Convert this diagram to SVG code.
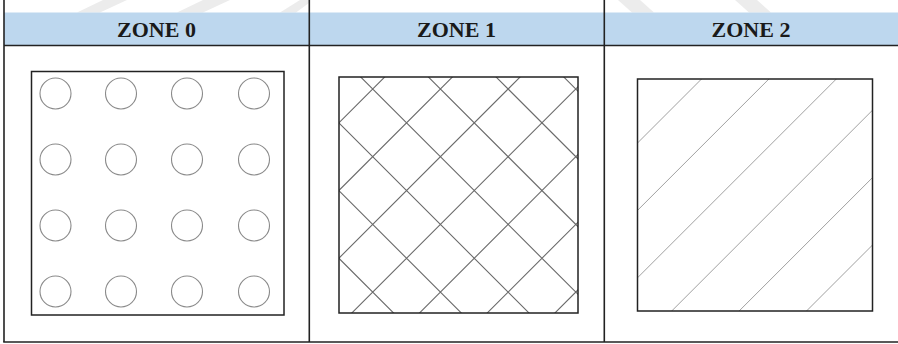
<svg xmlns="http://www.w3.org/2000/svg" width="898" height="344" viewBox="0 0 898 344">
  <style>
    .frame { stroke: #222; stroke-width: 1.6; fill: none; }
    .box { stroke: #222; stroke-width: 1.5; fill: none; }
    .hdr { font-family: "Liberation Serif", "Times New Roman", serif; font-weight: bold; font-size: 22px; fill: #1a1a1a; text-anchor: middle; }
    .dot { stroke: #8a8a8a; stroke-width: 1.1; fill: none; }
    .cross { stroke: #6a6a6a; stroke-width: 1.1; fill: none; }
    .diag { stroke: #a0a0a0; stroke-width: 1; fill: none; }
    .wm { fill: #ececec; }
  </style>
  <defs>
    <clipPath id="clip1"><rect x="339" y="77" width="239" height="236"/></clipPath>
    <clipPath id="clip2"><rect x="637" y="79" width="235" height="232"/></clipPath>
  </defs>
  <rect x="0" y="0" width="898" height="344" fill="#ffffff"/>
  <g id="watermark">
    <polygon class="wm" points="103,0 127,0 100,12.5 77,12.5"/>
    <polygon class="wm" points="203,0 230,0 203,12.5 177,12.5"/>
    <polygon class="wm" points="300,0 309,0 309,3 296,12.5 280,12.5"/>
    <polygon class="wm" points="618,0 640,0 654,12.5 632,12.5"/>
    <polygon class="wm" points="735,0 757,0 771,12.5 749,12.5"/>
  </g>
  <g id="header">
    <rect x="4" y="12.5" width="894" height="32.5" fill="#bdd7ee"/>
    <text class="hdr" x="156.5" y="37">ZONE 0</text>
    <text class="hdr" x="456.5" y="37">ZONE 1</text>
    <text class="hdr" x="751" y="37">ZONE 2</text>
  </g>
  <g id="table">
    <line class="frame" x1="4" y1="0" x2="4" y2="342"/>
    <line class="frame" x1="309.3" y1="0" x2="309.3" y2="342"/>
    <line class="frame" x1="604.3" y1="0" x2="604.3" y2="342"/>
    <line class="frame" x1="4" y1="45.5" x2="898" y2="45.5"/>
    <line class="frame" x1="3.2" y1="342" x2="898" y2="342"/>
  </g>
  <g id="zone0">
    <rect class="box" x="31.5" y="71.5" width="252.5" height="243.5"/>
    <g class="dot">
      <circle cx="55.5" cy="93.5" r="15.5"/>
      <circle cx="121" cy="93.5" r="15.5"/>
      <circle cx="187" cy="93.5" r="15.5"/>
      <circle cx="254" cy="93.5" r="15.5"/>
      <circle cx="55.5" cy="159.5" r="15.5"/>
      <circle cx="121" cy="159.5" r="15.5"/>
      <circle cx="187" cy="159.5" r="15.5"/>
      <circle cx="254" cy="159.5" r="15.5"/>
      <circle cx="55.5" cy="225.5" r="15.5"/>
      <circle cx="121" cy="225.5" r="15.5"/>
      <circle cx="187" cy="225.5" r="15.5"/>
      <circle cx="254" cy="225.5" r="15.5"/>
      <circle cx="55.5" cy="291.5" r="15.5"/>
      <circle cx="121" cy="291.5" r="15.5"/>
      <circle cx="187" cy="291.5" r="15.5"/>
      <circle cx="254" cy="291.5" r="15.5"/>
    </g>
  </g>
  <g id="zone1">
    <g clip-path="url(#clip1)">
      <path class="cross" d="M300,-186.8 L620,133.2 M300,-119.1 L620,200.9 M300,-51.4 L620,268.6 M300,16.3 L620,336.3 M300,84 L620,404 M300,151.7 L620,471.7 M300,219.4 L620,539.4
        M300,161.7 L620,-158.3 M300,229.4 L620,-90.6 M300,297.1 L620,-22.9 M300,364.8 L620,44.8 M300,432.5 L620,112.5 M300,500.2 L620,180.2 M300,567.9 L620,247.9"/>
    </g>
    <rect class="box" x="339" y="77" width="239" height="236"/>
  </g>
  <g id="zone2">
    <g clip-path="url(#clip2)">
      <path class="diag" d="M600,180.5 L900,-119.5 M600,247.9 L900,-52.1 M600,315.3 L900,15.3 M600,382.7 L900,82.7 M600,450.1 L900,150.1 M600,517.5 L900,217.5"/>
    </g>
    <rect class="box" x="637.5" y="79" width="235" height="232"/>
  </g>
</svg>
